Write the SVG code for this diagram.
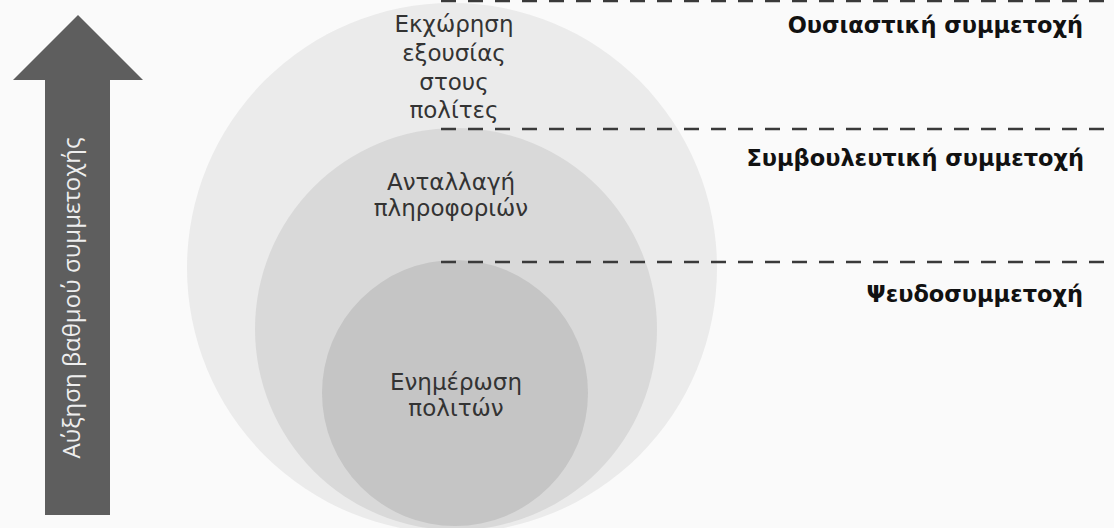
<svg xmlns="http://www.w3.org/2000/svg" width="1114" height="528" viewBox="0 0 1114 528">
<style>
.lbl{font-family:"DejaVu Sans","Noto Sans",sans-serif;font-size:23px;fill:#333;text-anchor:middle}
.lvl{font-family:"DejaVu Sans","Noto Sans",sans-serif;font-size:22.5px;font-weight:bold;fill:#111;text-anchor:end}
.dash{stroke:#3a3a3a;stroke-width:2.5;stroke-dasharray:15 12;fill:none}
.arrtxt{font-family:"Open Sans","Noto Sans",sans-serif;font-size:24px;fill:#eeeeee;text-anchor:middle}
</style>
<rect width="1114" height="528" fill="#fafafa"/>
<g id="arrow">
<polygon points="78,15 143,80 110,80 110,515 45,515 45,80 13,80" fill="#5e5e5e"/>
<text class="arrtxt" transform="translate(80,298) rotate(-90)">Αύξηση βαθμού συμμετοχής</text>
</g>
<g id="outer">
<circle cx="452" cy="268" r="265" fill="#ebebeb"/>
</g>
<g id="middle">
<circle cx="456" cy="329" r="201" fill="#d9d9d9"/>
</g>
<g id="inner">
<circle cx="455" cy="393" r="133" fill="#c5c5c5"/>
</g>
<g id="outer-label">
<text class="lbl" x="454" y="32">Εκχώρηση</text>
<text class="lbl" x="454" y="61">εξουσίας</text>
<text class="lbl" x="454" y="90">στους</text>
<text class="lbl" x="454" y="118">πολίτες</text>
</g>
<g id="middle-label">
<text class="lbl" x="451" y="190">Ανταλλαγή</text>
<text class="lbl" x="451" y="216">πληροφοριών</text>
</g>
<g id="inner-label">
<text class="lbl" x="456" y="390">Ενημέρωση</text>
<text class="lbl" x="456" y="416">πολιτών</text>
</g>
<g id="connectors">
<line class="dash" x1="441" y1="1" x2="1114" y2="1"/>
<line class="dash" x1="441" y1="129" x2="1114" y2="129"/>
<line class="dash" x1="441" y1="262" x2="1114" y2="262"/>
</g>
<g id="levels">
<text class="lvl" x="1083" y="33">Ουσιαστική συμμετοχή</text>
<text class="lvl" x="1084" y="166">Συμβουλευτική συμμετοχή</text>
<text class="lvl" x="1083" y="302">Ψευδοσυμμετοχή</text>
</g>
</svg>
